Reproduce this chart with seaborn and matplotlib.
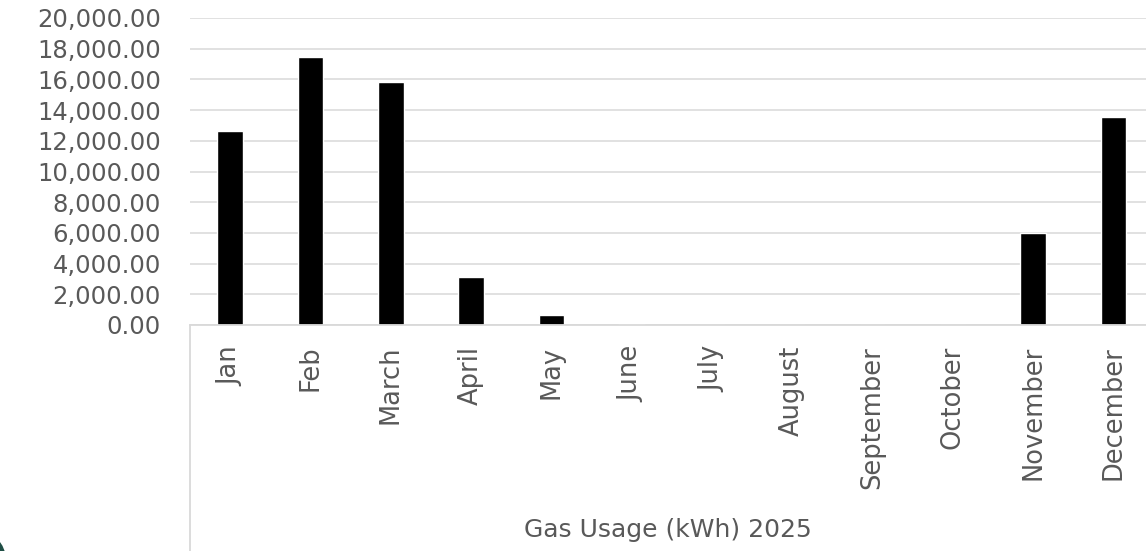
import matplotlib
matplotlib.use("Agg")
import matplotlib.pyplot as plt
from matplotlib.lines import Line2D
from matplotlib.patches import Circle
from matplotlib.ticker import FuncFormatter
import seaborn as sns

# monthly gas usage
months = ["Jan", "Feb", "March", "April", "May", "June", "July",
          "August", "September", "October", "November", "December"]
usage_kwh = [12650, 17450, 15800, 3100, 680, 50, 0, 0, 0, 0, 6000, 13550]
group_label = "Gas Usage (kWh) 2025"
y_ticks = list(range(0, 20001, 2000))

sns.set_style("white")
plt.rcParams["font.family"] = ["DejaVu Sans"]

W, H = 1146, 551
fig = plt.figure(figsize=(W / 100, H / 100), dpi=100)
ax = fig.add_axes([190 / W, 1 - 325 / H, 963.6 / W, (325 - 18) / H])

sns.barplot(x=months, y=usage_kwh, color="black", width=0.32,
            saturation=1, ax=ax)

ax.set_xlim(-0.5, 11.5)
ax.set_ylim(0, 20000)
ax.set_yticks(y_ticks)
ax.yaxis.set_major_formatter(FuncFormatter(lambda v, p: f"{v:,.2f}"))
ax.yaxis.grid(True, color="#d9d9d9", lw=1.1)
ax.set_axisbelow(True)
for s in ["left", "top", "right"]:
    ax.spines[s].set_visible(False)
ax.spines["bottom"].set_color("#d9d9d9")
ax.spines["bottom"].set_linewidth(1.3)

ax.tick_params(axis="y", length=0, pad=21, labelsize=17.5, labelcolor="#595959")
ax.tick_params(axis="x", length=0, pad=15, labelsize=18.5, labelcolor="#595959",
               rotation=90)
ax.set_xlabel("")
ax.set_ylabel("")

# category-group line and label under the axis
fig.add_artist(Line2D([190 / W, 190 / W], [0, 1 - 325 / H],
                      transform=fig.transFigure, color="#d9d9d9", lw=1.3))
fig.text(668 / W, 1 - 530 / H, group_label, ha="center", va="center",
         fontsize=18, color="#595959")

# dark corner of the slide panel
fig.add_artist(Circle((-0.30, -0.12), 0.36, transform=fig.dpi_scale_trans,
                      color="#1f4e45"))

fig.savefig("out.png", dpi=100)
